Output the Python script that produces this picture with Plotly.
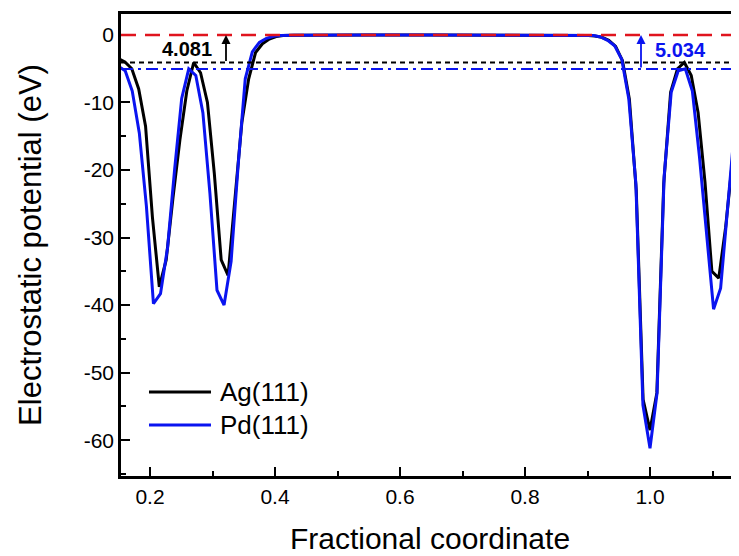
import plotly.graph_objects as go

# ---- data ----
ag_x = [0.1489, 0.1599, 0.1709, 0.1819, 0.1929, 0.2039, 0.2149, 0.2259, 0.2369, 0.2479,
        0.2589, 0.2699, 0.2809, 0.2919, 0.3029, 0.3139, 0.3249, 0.3359, 0.3469, 0.3579,
        0.3689, 0.3799, 0.3909, 0.4019, 0.4129, 0.43, 0.46, 0.55, 0.65, 0.75, 0.85, 0.88,
        0.901, 0.912, 0.923, 0.934, 0.945, 0.956, 0.967, 0.978, 0.989, 1.0, 1.011, 1.022,
        1.033, 1.044, 1.055, 1.066, 1.077, 1.088, 1.099, 1.110, 1.121, 1.132, 1.143, 1.154]
ag_y = [-3.5, -4.0, -5.0, -8.0, -13.5, -27.0, -37.3, -33.3, -24.0, -15.5,
        -8.3, -4.08, -5.6, -10.0, -20.5, -33.3, -35.6, -23.7, -13.0, -6.5,
        -2.6, -1.3, -0.6, -0.25, -0.1, -0.05, -0.03, -0.02, -0.02, -0.02, -0.03, -0.05,
        -0.08, -0.15, -0.35, -0.8, -1.7, -3.8, -9.5, -23.0, -54.0, -58.5, -53.0, -22.0,
        -8.5, -5.0, -4.08, -6.0, -11.5, -21.8, -35.0, -36.0, -28.5, -18.5, -9.0, -4.5]

pd_x = [0.1490, 0.1603, 0.1716, 0.1829, 0.1942, 0.2055, 0.2168, 0.2281, 0.2394, 0.2507,
        0.2620, 0.2733, 0.2846, 0.2959, 0.3072, 0.3185, 0.3298, 0.3411, 0.3524, 0.3637,
        0.3750, 0.3863, 0.3976, 0.4089, 0.43, 0.46, 0.55, 0.65, 0.75, 0.85, 0.88,
        0.8983, 0.9096, 0.9209, 0.9322, 0.9435, 0.9548, 0.9661, 0.9774, 0.9887, 1.0,
        1.0113, 1.0226, 1.0339, 1.0452, 1.0565, 1.0678, 1.0791, 1.0904, 1.1017, 1.1130,
        1.1243, 1.1356, 1.1469, 1.1582]
pd_y = [-4.6, -5.3, -8.3, -14.5, -25.3, -39.8, -38.3, -31.5, -19.9, -9.4,
        -5.03, -6.0, -11.5, -23.5, -37.8, -40.0, -33.5, -19.2, -6.5, -2.5,
        -1.1, -0.5, -0.2, -0.1, -0.05, -0.03, -0.02, -0.02, -0.02, -0.03, -0.05,
        -0.07, -0.1, -0.3, -0.8, -1.6, -3.6, -9.5, -22.0, -54.8, -61.2,
        -53.0, -21.0, -8.5, -5.3, -5.03, -8.3, -18.0, -29.4, -40.6, -37.5,
        -25.0, -13.5, -6.5, -4.8]

vacuum_level = 0.0
ag_level = -4.081
pd_level = -5.034
ag_label = "4.081"
pd_label = "5.034"
series_names = ["Ag(111)", "Pd(111)"]
x_ticks = [0.2, 0.4, 0.6, 0.8, 1.0]
x_ticklabels = ["0.2", "0.4", "0.6", "0.8", "1.0"]
y_ticks = [0, -10, -20, -30, -40, -50, -60]
y_ticklabels = ["0", "-10", "-20", "-30", "-40", "-50", "-60"]

FONT = "Arial, Liberation Sans, sans-serif"
BLUE = "#0a14f0"
RED = "#e0141e"

fig = go.Figure()
fig.add_trace(go.Scatter(x=ag_x, y=ag_y, mode="lines", name=series_names[0],
                         line=dict(color="black", width=3), showlegend=False))
fig.add_trace(go.Scatter(x=pd_x, y=pd_y, mode="lines", name=series_names[1],
                         line=dict(color=BLUE, width=3), showlegend=False))

# reference levels
fig.add_shape(type="line", xref="paper", x0=0, x1=1, yref="y", y0=vacuum_level, y1=vacuum_level,
              line=dict(color=RED, width=2.4, dash="15px,9px"), layer="above")
fig.add_shape(type="line", xref="paper", x0=0, x1=1, yref="y", y0=ag_level, y1=ag_level,
              line=dict(color="black", width=2, dash="5px,4px"), layer="above")
fig.add_shape(type="line", xref="paper", x0=0, x1=1, yref="y", y0=pd_level, y1=pd_level,
              line=dict(color=BLUE, width=2, dash="12px,5px,3px,5px"), layer="above")

# arrows and labels
fig.add_annotation(x=0.3216, y=vacuum_level, ax=0.3216, ay=ag_level, xref="x", yref="y",
                   axref="x", ayref="y", text="", showarrow=True, arrowhead=2,
                   arrowsize=1, arrowwidth=1.8, arrowcolor="black")
fig.add_annotation(x=0.9856, y=vacuum_level, ax=0.9856, ay=pd_level, xref="x", yref="y",
                   axref="x", ayref="y", text="", showarrow=True, arrowhead=2,
                   arrowsize=1, arrowwidth=1.8, arrowcolor=BLUE)
fig.add_annotation(x=0.2592, y=-2.15, xref="x", yref="y", text="<b>%s</b>" % ag_label,
                   showarrow=False, font=dict(family=FONT, size=20, color="black"))
fig.add_annotation(x=1.048, y=-2.2, xref="x", yref="y", text="<b>%s</b>" % pd_label,
                   showarrow=False, font=dict(family=FONT, size=20, color=BLUE))

# custom legend
for name, col, yy in [(series_names[0], "black", 0.1818), (series_names[1], BLUE, 0.1104)]:
    fig.add_shape(type="line", xref="paper", yref="paper", x0=0.0453, x1=0.1456, y0=yy, y1=yy,
                  line=dict(color=col, width=2.8))
    fig.add_annotation(xref="paper", yref="paper", x=0.157, y=yy, text=name, showarrow=False,
                       xanchor="left", yanchor="middle",
                       font=dict(family=FONT, size=26, color="black"))

fig.update_layout(
    width=731, height=548,
    margin=dict(l=113, r=0, t=6, b=80, autoexpand=False),
    plot_bgcolor="white", paper_bgcolor="white",
    font=dict(family=FONT, size=21, color="black"),
)
fig.update_xaxes(
    range=[0.1536, 1.1424], tickvals=x_ticks, ticktext=x_ticklabels,
    ticks="inside", ticklen=9, tickwidth=2, tickcolor="black",
    minor=dict(dtick=0.1, tick0=0.1, ticks="inside", ticklen=5, tickwidth=2, tickcolor="black"),
    showline=True, linewidth=2.6, linecolor="black", mirror=True,
    showgrid=False, zeroline=False, ticklabelstandoff=0,
    tickfont=dict(family=FONT, size=21),
    title=dict(text="Fractional coordinate", font=dict(family=FONT, size=30), standoff=21),
)
fig.update_yaxes(
    range=[-65.3, 3.1], tickvals=y_ticks, ticktext=y_ticklabels,
    ticks="inside", ticklen=9, tickwidth=2, tickcolor="black",
    minor=dict(dtick=5, tick0=-5, ticks="inside", ticklen=5, tickwidth=2, tickcolor="black"),
    showline=True, linewidth=2.6, linecolor="black", mirror=False,
    showgrid=False, zeroline=False, ticklabelstandoff=0,
    tickfont=dict(family=FONT, size=21),
    title=dict(text="Electrostatic potential (eV)", font=dict(family=FONT, size=31), standoff=33),
)

fig.write_html("out.html")
